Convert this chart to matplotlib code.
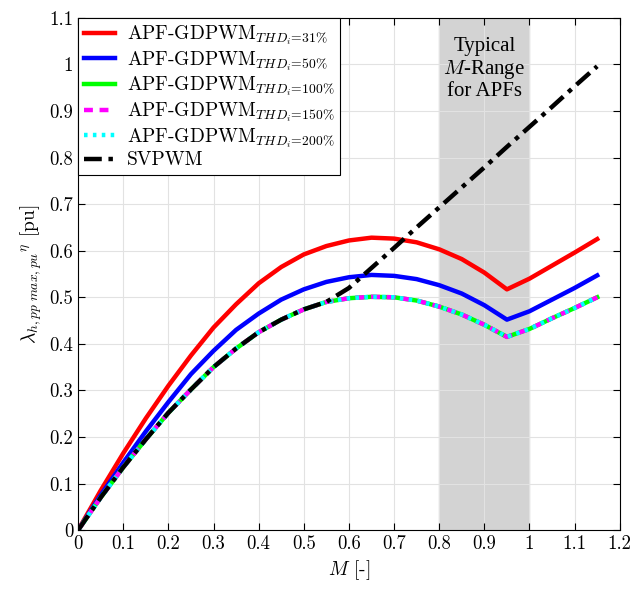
import matplotlib
matplotlib.use("Agg")
import matplotlib.pyplot as plt

plt.rcParams['font.family'] = ['cmr10', 'DejaVu Serif']
plt.rcParams['mathtext.fontset'] = 'cm'
plt.rcParams['axes.formatter.use_mathtext'] = True

# modulation index
M = [0, 0.05, 0.1, 0.15, 0.2, 0.25, 0.3, 0.35, 0.4, 0.45, 0.5, 0.55,
     0.6, 0.65, 0.7, 0.75, 0.8, 0.85, 0.9, 0.95, 1.0, 1.05, 1.1, 1.15]

thd31 = [0, 0.085, 0.165, 0.24, 0.31, 0.375, 0.435, 0.485, 0.53, 0.565, 0.592, 0.61,
         0.622, 0.628, 0.626, 0.618, 0.603, 0.582, 0.553, 0.517, 0.54, 0.568, 0.596, 0.625]
thd50 = [0, 0.075, 0.145, 0.212, 0.275, 0.335, 0.385, 0.43, 0.465, 0.495, 0.517, 0.533,
         0.543, 0.548, 0.546, 0.539, 0.526, 0.508, 0.483, 0.452, 0.47, 0.495, 0.52, 0.547]
thd100 = [0, 0.07, 0.135, 0.195, 0.252, 0.302, 0.35, 0.39, 0.425, 0.452, 0.474, 0.49,
          0.498, 0.501, 0.5, 0.493, 0.48, 0.463, 0.441, 0.415, 0.432, 0.455, 0.477, 0.5]
thd150 = [0, 0.07, 0.135, 0.195, 0.252, 0.302, 0.35, 0.39, 0.425, 0.452, 0.474, 0.49,
          0.498, 0.501, 0.5, 0.493, 0.48, 0.463, 0.441, 0.415, 0.432, 0.455, 0.477, 0.5]
thd200 = [0, 0.07, 0.135, 0.195, 0.252, 0.302, 0.35, 0.39, 0.425, 0.452, 0.474, 0.49,
          0.498, 0.501, 0.5, 0.493, 0.48, 0.463, 0.441, 0.415, 0.432, 0.455, 0.477, 0.5]
svpwm = [0, 0.07, 0.135, 0.195, 0.252, 0.302, 0.35, 0.39, 0.425, 0.452, 0.474, 0.49,
         0.52, 0.563, 0.606, 0.65, 0.693, 0.736, 0.779, 0.823, 0.866, 0.909, 0.953, 0.996]

fig = plt.figure(figsize=(6.35, 5.95), dpi=100)
ax = fig.add_axes([0.123, 0.109, 0.853, 0.861])

ax.axvspan(0.8, 1.0, color='#d3d3d3', zorder=0)
ax.grid(True, color='#e2e2e2', linewidth=0.8, zorder=0.5)
ax.set_axisbelow(True)

lw = 3.2
ax.plot(M, thd31, color='red', lw=lw, label=r'APF-GDPWM$_{THD_i\!=\!31\%}$')
ax.plot(M, thd50, color='blue', lw=lw, label=r'APF-GDPWM$_{THD_i\!=\!50\%}$')
ax.plot(M, thd100, color='#00ff00', lw=lw, label=r'APF-GDPWM$_{THD_i\!=\!100\%}$')
ax.plot(M, thd150, color='magenta', lw=lw, ls=(0, (2, 1.5)), label=r'APF-GDPWM$_{THD_i\!=\!150\%}$')
ax.plot(M, thd200, color='cyan', lw=lw, ls=(0, (0.8, 1.2)), label=r'APF-GDPWM$_{THD_i\!=\!200\%}$')
ax.plot(M, svpwm, color='black', lw=lw, ls=(0, (4, 1.5, 1, 1.5)), label='SVPWM')

ax.text(0.9, 0.99, 'Typical\n$M$-Range\nfor APFs', ha='center', va='center',
        fontsize=15, family='Liberation Serif', linespacing=1.1)

ax.set_xlim(0, 1.2)
ax.set_ylim(0, 1.1)
ax.set_xticks([i / 10 for i in range(13)])
ax.set_yticks([i / 10 for i in range(12)])
ax.set_xticklabels(['0', '0.1', '0.2', '0.3', '0.4', '0.5', '0.6', '0.7', '0.8', '0.9', '1', '1.1', '1.2'])
ax.set_yticklabels(['0', '0.1', '0.2', '0.3', '0.4', '0.5', '0.6', '0.7', '0.8', '0.9', '1', '1.1'])
ax.tick_params(direction='in', top=True, right=True, labelsize=13.5, length=5)
for s in ax.spines.values():
    s.set_linewidth(0.8)

ax.set_xlabel(r'$M$ [-]', fontsize=14)
ax.set_ylabel(r'$\lambda_{h,pp\ max,pu}{}^{\eta}$ [pu]', fontsize=14)

leg = ax.legend(loc='upper left', fontsize=14, fancybox=False, framealpha=1,
                edgecolor='black', borderaxespad=0, handlelength=1.6,
                labelspacing=0.1, borderpad=0.3, handletextpad=0.6)
leg.get_frame().set_linewidth(0.8)

fig.savefig('out.png', dpi=100)
